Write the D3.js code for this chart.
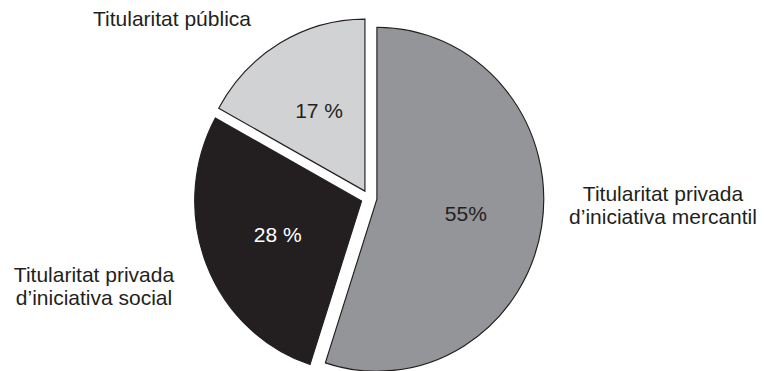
<!DOCTYPE html>
<html lang="ca">
<head>
  <meta charset="UTF-8">
  <script src="https://d3js.org/d3.v7.min.js"></script>
  <style>
    body { margin: 0; background: #fff; }
    text { font-family: "Liberation Sans", Arial, sans-serif; font-size: 21px; }
  </style>
  <title>Titularitat</title>
</head>
<body>
  <svg id="pie" width="764" height="371"></svg>
  <script>
    var categories = ['Titularitat privada\nd\u2019iniciativa mercantil',
                      'Titularitat privada\nd\u2019iniciativa social',
                      'Titularitat p\u00fablica'];
    var values = [55, 28, 17];
    var valueLabels = ['55%', '28 %', '17 %'];
    var colors = ['#949599', '#231f20', '#d1d2d4'];
    var labelColors = ['#231f20', '#ffffff', '#231f20'];

    var cx = 369, cy = 198, r = 172, sx = 0.97, explode = 8;
    // where each category name sits (centre of text block, first baseline)
    var namePos = [[663, 201], [94, 282], [172, 26]];

    var svg = d3.select('#pie');
    var pie = d3.pie().sort(null).value(d => d)(values);
    var arc = d3.arc().innerRadius(0).outerRadius(r);
    var lblArc = d3.arc().innerRadius(r * 0.54).outerRadius(r * 0.54);

    var g = svg.append('g').attr('transform', 'translate(' + cx + ',' + cy + ')');

    var slices = g.selectAll('g.slice').data(pie).enter().append('g')
      .attr('class', 'slice')
      .attr('transform', function(d) {
        var a = (d.startAngle + d.endAngle) / 2;
        return 'translate(' + (Math.sin(a) * explode) + ',' + (-Math.cos(a) * explode) + ')';
      });

    slices.append('path')
      .attr('d', arc)
      .attr('transform', 'scale(' + sx + ',1)')
      .attr('fill', (d, i) => colors[i])
      .attr('stroke', '#231f20')
      .attr('stroke-width', 1.2);

    slices.append('text')
      .attr('x', d => lblArc.centroid(d)[0] * sx)
      .attr('y', d => lblArc.centroid(d)[1] + 7)
      .attr('text-anchor', 'middle')
      .attr('fill', (d, i) => labelColors[i])
      .text((d, i) => valueLabels[i]);

    categories.forEach(function(c, i) {
      var t = svg.append('text')
        .attr('text-anchor', 'middle')
        .attr('fill', '#231f20');
      c.split('\n').forEach(function(line, j) {
        t.append('tspan')
          .attr('x', namePos[i][0])
          .attr('y', namePos[i][1] + j * 23)
          .text(line);
      });
    });
  </script>
</body>
</html>
